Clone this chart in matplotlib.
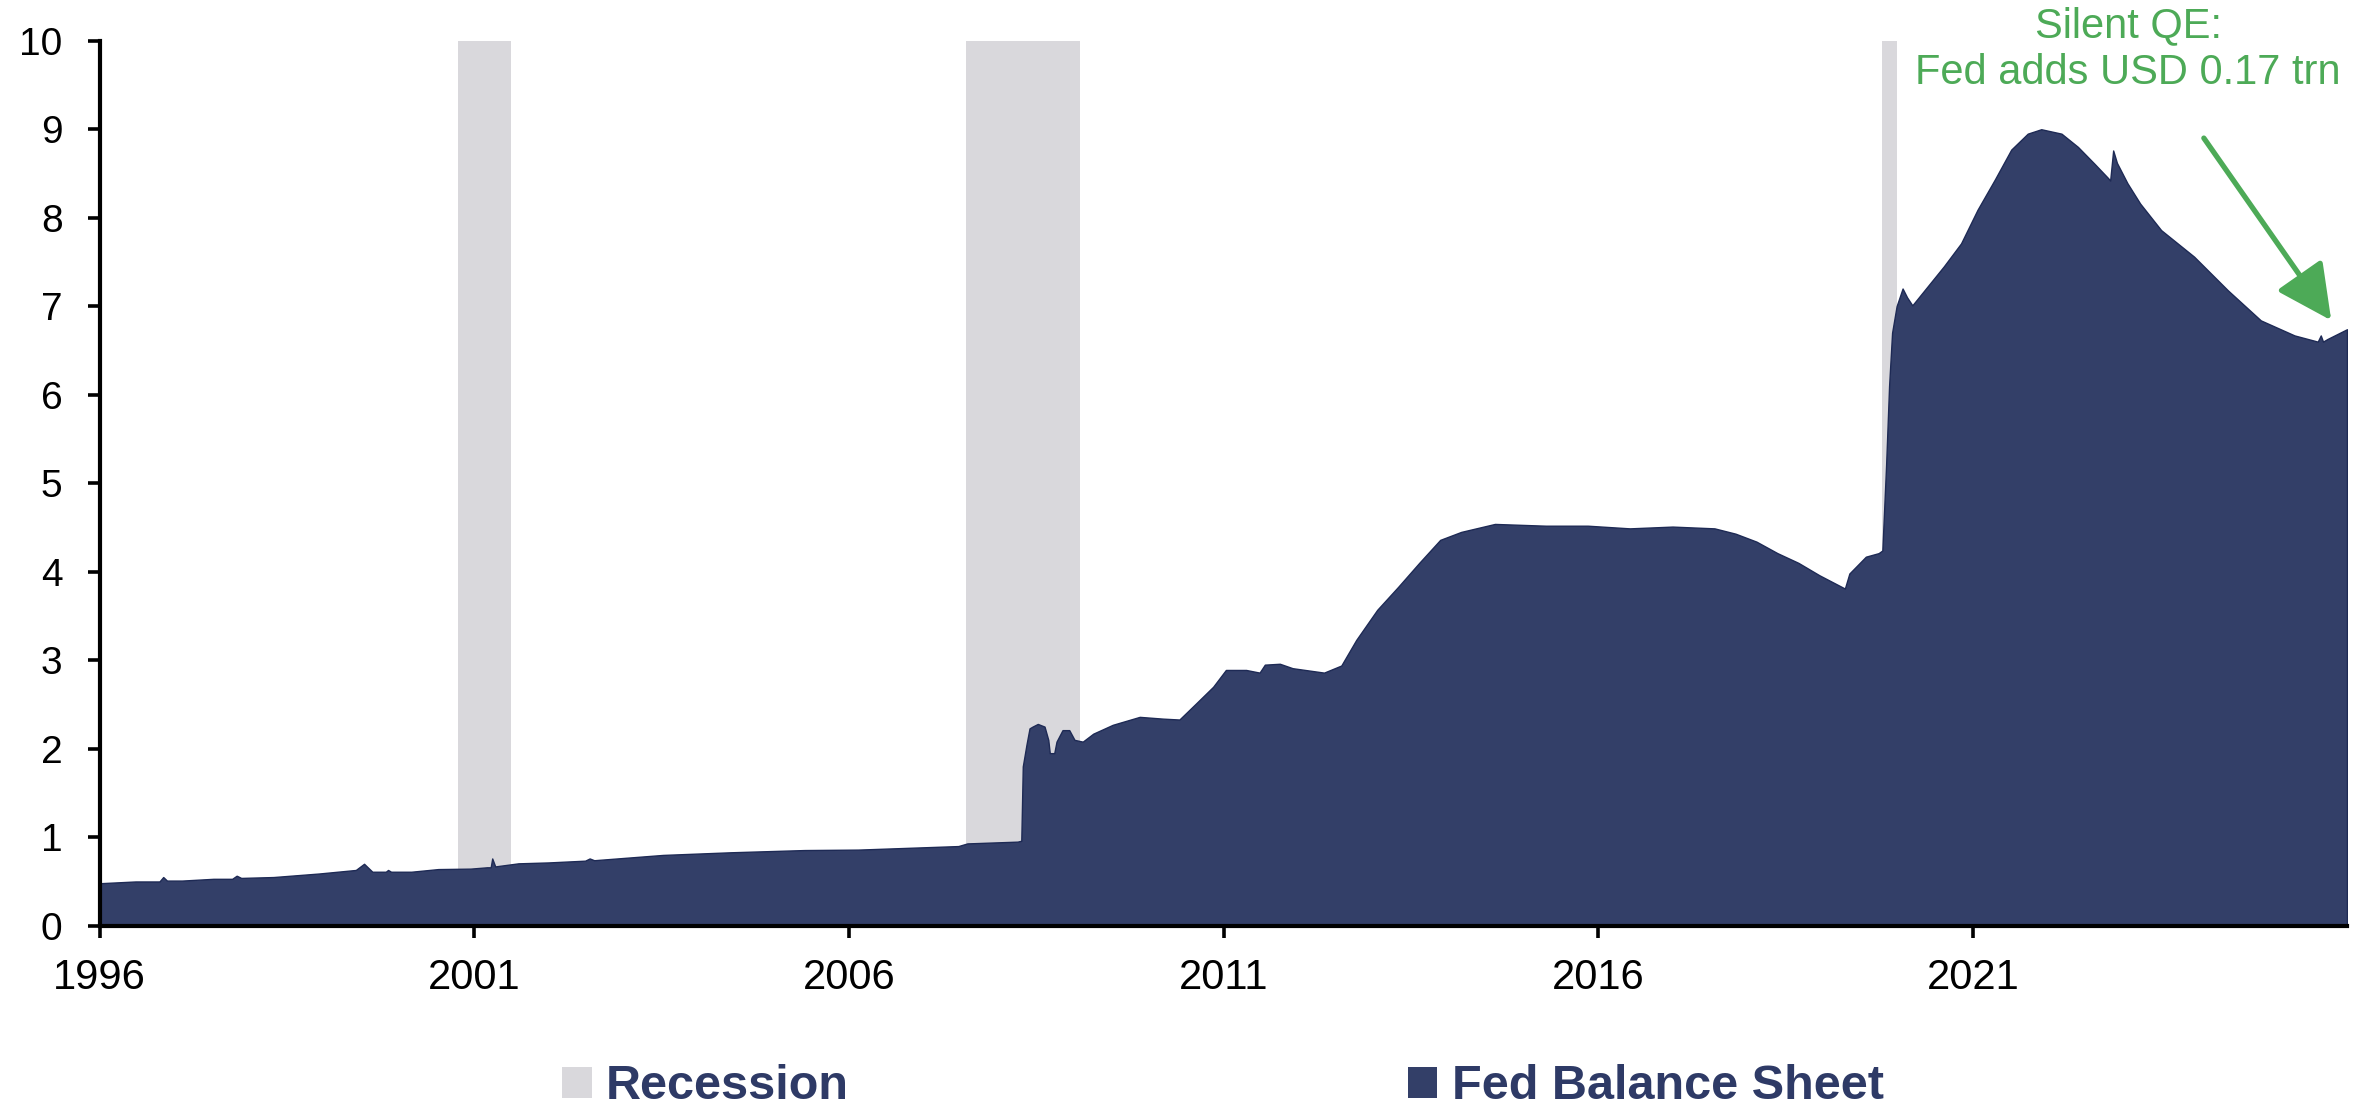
import matplotlib
matplotlib.use("Agg")
import matplotlib.pyplot as plt
from matplotlib.patches import Patch

# Fed balance sheet, USD trn (decimal year)
years = [
    1996.38, 1996.86, 1997.18, 1997.23, 1997.28, 1997.48, 1997.90, 1998.15,
    1998.21, 1998.27, 1998.70, 1999.31, 1999.80, 1999.91, 2000.02, 2000.20,
    2000.23, 2000.27, 2000.54, 2000.90, 2001.33, 2001.55, 2001.60, 2001.62,
    2001.66, 2001.97, 2002.37, 2002.86, 2002.92, 2002.98, 2003.90, 2004.81,
    2005.79, 2006.50, 2007.84, 2007.96, 2008.63, 2008.68, 2008.70, 2008.75,
    2008.79, 2008.83, 2008.90, 2008.99, 2009.04, 2009.06, 2009.12, 2009.15,
    2009.23, 2009.32, 2009.39, 2009.50, 2009.64, 2009.90, 2010.26, 2010.57,
    2010.79, 2011.01, 2011.24, 2011.41, 2011.68, 2011.86, 2011.93, 2012.13,
    2012.30, 2012.72, 2012.95, 2013.15, 2013.43, 2013.71, 2013.99, 2014.27,
    2014.55, 2015.00, 2015.68, 2016.24, 2016.80, 2017.37, 2017.93, 2018.21,
    2018.49, 2018.77, 2019.05, 2019.33, 2019.67, 2019.73, 2019.95, 2020.12,
    2020.17, 2020.22, 2020.26, 2020.30, 2020.36, 2020.44, 2020.50, 2020.57,
    2020.99, 2021.22, 2021.44, 2021.67, 2021.89, 2022.11, 2022.29, 2022.56,
    2022.78, 2023.00, 2023.18, 2023.21, 2023.25, 2023.30, 2023.44, 2023.61,
    2023.89, 2024.33, 2024.78, 2025.22, 2025.67, 2025.98, 2026.02, 2026.05,
    2026.11, 2026.37,
]
balance = [
    0.48, 0.50, 0.50, 0.55, 0.51, 0.51, 0.53, 0.53,
    0.565, 0.54, 0.55, 0.59, 0.63, 0.70, 0.61, 0.61,
    0.63, 0.61, 0.61, 0.64, 0.645, 0.66, 0.66, 0.76,
    0.67, 0.705, 0.715, 0.735, 0.76, 0.74, 0.80, 0.83,
    0.855, 0.86, 0.90, 0.93, 0.95, 0.96, 1.80, 2.05,
    2.23, 2.25, 2.28, 2.25, 2.10, 1.95, 1.95, 2.08,
    2.21, 2.21, 2.10, 2.08, 2.17, 2.27, 2.36, 2.34,
    2.33, 2.51, 2.70, 2.89, 2.89, 2.86, 2.95, 2.96,
    2.91, 2.86, 2.94, 3.23, 3.57, 3.83, 4.10, 4.36,
    4.45, 4.54, 4.52, 4.52, 4.49, 4.51, 4.49, 4.43,
    4.34, 4.21, 4.10, 3.96, 3.81, 3.98, 4.17, 4.21,
    4.24, 5.20, 6.10, 6.70, 7.00, 7.20, 7.10, 7.01,
    7.45, 7.71, 8.09, 8.43, 8.77, 8.95, 9.00, 8.95,
    8.80, 8.61, 8.45, 8.42, 8.76, 8.62, 8.39, 8.16,
    7.86, 7.56, 7.18, 6.84, 6.67, 6.60, 6.67, 6.60,
    6.63, 6.74,
]
recessions = [(2001.17, 2001.87), (2007.94, 2009.46), (2020.17, 2020.36)]
tick_years = [1996, 2001, 2006, 2011, 2016, 2021]

navy = "#333F68"
grey = "#D9D8DC"
green = "#4DAA57"
legend_blue = "#2E3A66"

plt.rcParams["font.family"] = ["Liberation Sans", "DejaVu Sans"]

fig = plt.figure(figsize=(23.64, 11.16), dpi=100)
ax = fig.add_axes([0.0421, 0.1705, 0.9507, 0.793])

for start, end in recessions:
    ax.axvspan(start, end, color=grey, lw=0, zorder=1)
ax.fill_between(years, balance, 0, facecolor=navy, edgecolor="#1E2A55",
                lw=1, zorder=2)

# ticks every 5 years counted from the first observation
x0 = years[0]
ax.set_xticks([x0 + (y - tick_years[0]) for y in tick_years])
ax.set_xticklabels([str(y) for y in tick_years])
ax.set_xlim(x0, years[-1])
ax.set_ylim(0, 10)
ax.set_yticks(range(0, 11))

for side in ["top", "right"]:
    ax.spines[side].set_visible(False)
for side in ["left", "bottom"]:
    ax.spines[side].set_linewidth(3)
    ax.spines[side].set_zorder(5)
ax.tick_params(axis="both", length=8.6, width=2.6, colors="black")
ax.tick_params(axis="x", pad=15, labelsize=30)
ax.tick_params(axis="y", pad=18, labelsize=28)

ax.annotate("", xy=(2026.16, 6.84), xytext=(2024.46, 8.90),
            arrowprops=dict(arrowstyle="-|>,head_length=1.7,head_width=0.85",
                            color=green, lw=3.8, mutation_scale=20,
                            shrinkA=0, shrinkB=0), zorder=6)
ax.text(2023.45, 9.9, "Silent QE:\nFed adds USD 0.17 trn", ha="center",
        va="center", color=green, fontsize=30, clip_on=False, zorder=6)

handles = [Patch(facecolor=grey, label="Recession"),
           Patch(facecolor=navy, label="Fed Balance Sheet")]
leg = ax.legend(handles=handles, loc="center", ncol=2,
                bbox_to_anchor=(0.5, (0.026 - 0.1705) / 0.793),
                frameon=False, handlelength=0.6, handleheight=0.6,
                handletextpad=0.3, columnspacing=11.5,
                prop={"size": 35, "weight": "bold"})
for t in leg.get_texts():
    t.set_color(legend_blue)

fig.savefig("out.png", dpi=100)
